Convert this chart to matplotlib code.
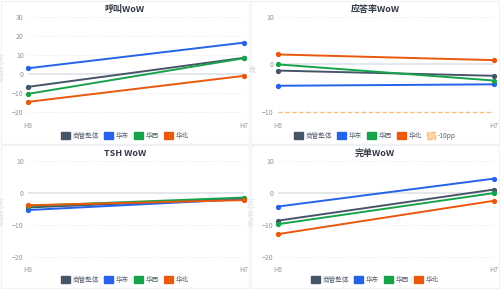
"""
WoW 四宫格折线图
"""
import matplotlib
matplotlib.use("Agg")
import matplotlib.pyplot as plt
from matplotlib.patches import Patch, Rectangle

plt.rcParams['font.family'] = ['Noto Sans CJK SC', 'DejaVu Sans']

periods = ["H6", "H7"]
series_names = ["商管整体", "华东", "华西", "华北"]
colors = ["#475569", "#2563eb", "#16a34a", "#ea580c"]

call_wow = [[-6.8, 8.5], [3.0, 16.5], [-10.5, 8.3], [-14.7, -1.0]]
answer_pp = [[-1.3, -2.4], [-4.5, -4.2], [0.0, -3.4], [2.1, 0.9]]
tsh_wow = [[-4.5, -1.7], [-5.3, -1.9], [-4.0, -1.4], [-3.8, -2.2]]
done_wow = [[-8.6, 1.1], [-4.2, 4.5], [-9.7, 0.0], [-12.8, -2.4]]
threshold_pp = -10

panels = [
    ("呼叫WoW", call_wow, "WoW (%)", [30, 20, 10, 0, -10, -20], (-23.2, 30)),
    ("应答率WoW", answer_pp, "pp", [10, 0, -10], (-11.3, 10)),
    ("TSH WoW", tsh_wow, "WoW (%)", [10, 0, -10, -20], (-21.5, 10)),
    ("完单WoW", done_wow, "WoW (%)", [10, 0, -10, -20], (-21.5, 10)),
]

W, H = 500, 289
fig = plt.figure(figsize=(5, 2.89), dpi=100)
fig.patch.set_facecolor("white")

for i, (title, data, ylab, ticks, ylim) in enumerate(panels):
    col, row = i % 2, i // 2
    x0, y0 = col * 250, row * 144
    # card border
    fig.patches.append(Rectangle(((x0 + 1) / W, 1 - (y0 + 144) / H), 248 / W, 143 / H,
                                 transform=fig.transFigure, fill=False,
                                 edgecolor="#eef1f5", linewidth=0.8))
    left = (x0 + 28) / W
    right = (x0 + 244) / W
    top = 1 - (y0 + 17) / H
    bottom = 1 - (y0 + 118) / H
    ax = fig.add_axes([left, bottom, right - left, top - bottom])
    xs = [0, 1]
    for vals, c in zip(data, colors):
        ax.plot(xs, vals, color=c, linewidth=1.4, marker="o", markersize=2.8,
                zorder=3, clip_on=False)
    if i == 1:
        ax.axhline(threshold_pp, color="#fdba74", linewidth=1.0, linestyle=(0, (3, 2)), zorder=2)
    ax.axhline(0, color="#e2e5ea", linewidth=1.3, zorder=1)
    for t in ticks:
        if t != 0:
            ax.axhline(t, color="#e5e7eb", linewidth=0.6, linestyle=(0, (1.5, 2)), zorder=0)
    ax.set_xlim(0, 1)
    ax.set_ylim(*ylim)
    ax.set_xticks(xs)
    ax.set_xticklabels(periods)
    ax.set_yticks(ticks)
    for s in ax.spines.values():
        s.set_visible(False)
    ax.tick_params(length=0, labelsize=5, colors="#8a93a3", pad=3)
    ax.set_ylabel(ylab, fontsize=5, color="#c3cad5", labelpad=4)
    fig.text((x0 + 125) / W, 1 - (y0 + 9) / H, title, ha="center", va="center",
             fontsize=6.5, fontweight="bold", color="#333a44")
    handles = [Patch(facecolor=c, edgecolor=c) for c in colors]
    labels = list(series_names)
    if i == 1:
        handles.append(Patch(facecolor="#fdd7a8", edgecolor="#fdba74", linestyle="--"))
        labels.append("-10pp")
    fig.legend(handles, labels, loc="center", bbox_to_anchor=((x0 + 125) / W, 1 - (y0 + 136) / H),
               ncol=len(labels), frameon=False, fontsize=4.8, handlelength=1.3, handleheight=1.3,
               handletextpad=0.4, columnspacing=0.8, labelcolor="#5b6472")

fig.savefig("out.png", dpi=100)
